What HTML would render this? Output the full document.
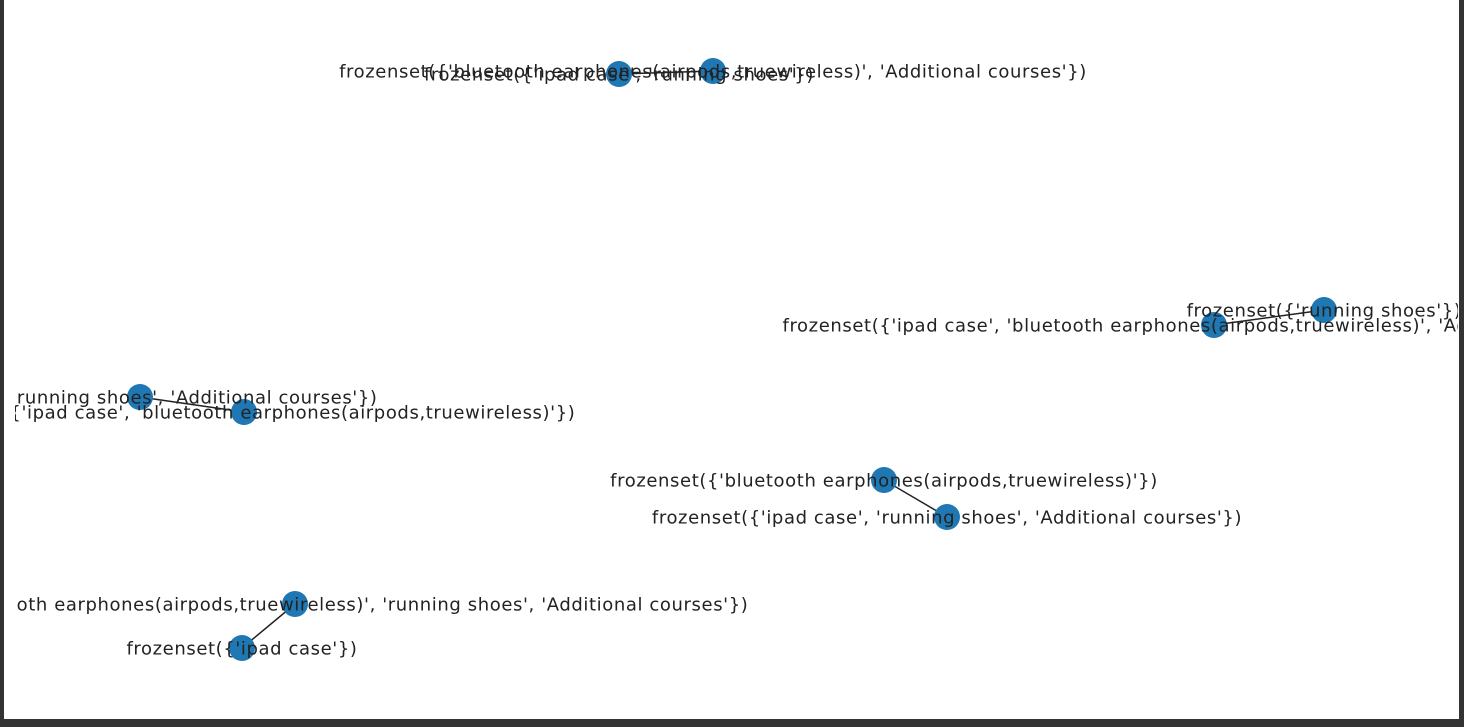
<!DOCTYPE html>
<html><head><style>
html,body{margin:0;padding:0;background:#333;}
svg{display:block;}
</style></head><body>
<svg width="1464" height="727" xmlns="http://www.w3.org/2000/svg">
<rect x="0" y="0" width="1464" height="727" fill="#333"/>
<rect x="4" y="0" width="1455" height="719" fill="#fff"/>
<defs><clipPath id="c"><rect x="15" y="0" width="1443" height="719"/></clipPath></defs>
<g clip-path="url(#c)">
<g stroke="#222" stroke-width="1.5">
<line x1="619" y1="74" x2="713" y2="71"/>
<line x1="1324" y1="310" x2="1214" y2="325"/>
<line x1="140" y1="397" x2="244" y2="412"/>
<line x1="884" y1="480" x2="947" y2="517"/>
<line x1="295" y1="604" x2="242" y2="648"/>
</g>
<g fill="#1f77b4">
<circle cx="619" cy="74" r="13"/><circle cx="713" cy="71" r="13"/>
<circle cx="1324" cy="310" r="13"/><circle cx="1214" cy="325" r="13"/>
<circle cx="140" cy="397" r="13"/><circle cx="244" cy="412" r="13"/>
<circle cx="884" cy="480" r="13"/><circle cx="947" cy="517" r="13"/>
<circle cx="295" cy="604" r="13"/><circle cx="242" cy="648" r="13"/>
</g>
<g font-family="'DejaVu Sans', sans-serif" font-size="18" letter-spacing="0.6" fill="#222" text-anchor="middle" dominant-baseline="central">
<text x="619" y="75">frozenset({'ipad case', 'running shoes'})</text>
<text x="713" y="72">frozenset({'bluetooth earphones(airpods,truewireless)', 'Additional courses'})</text>
<text x="1324" y="311">frozenset({'running shoes'})</text>
<text x="1214" y="326">frozenset({'ipad case', 'bluetooth earphones(airpods,truewireless)', 'Additional courses'})</text>
<text x="140" y="398">frozenset({'running shoes', 'Additional courses'})</text>
<text x="244" y="413">frozenset({'ipad case', 'bluetooth earphones(airpods,truewireless)'})</text>
<text x="884" y="481">frozenset({'bluetooth earphones(airpods,truewireless)'})</text>
<text x="947" y="518">frozenset({'ipad case', 'running shoes', 'Additional courses'})</text>
<text x="295" y="605">frozenset({'bluetooth earphones(airpods,truewireless)', 'running shoes', 'Additional courses'})</text>
<text x="242" y="649">frozenset({'ipad case'})</text>
</g>
</g>
</svg>
</body></html>
